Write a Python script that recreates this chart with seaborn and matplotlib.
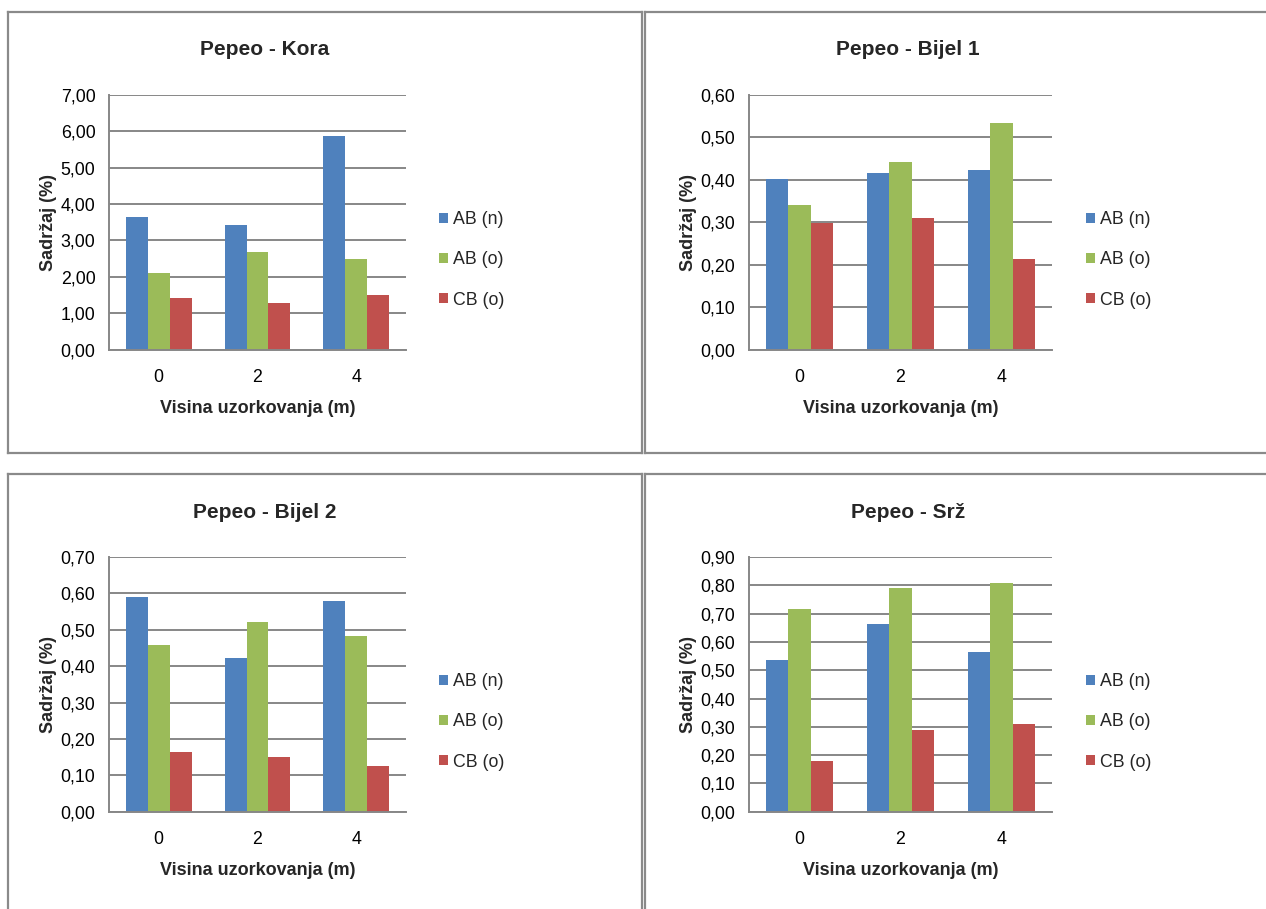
import matplotlib
matplotlib.use("Agg")
import matplotlib.pyplot as plt
from matplotlib.ticker import FuncFormatter, FixedLocator, MultipleLocator
from matplotlib.patches import Patch
from matplotlib.lines import Line2D
import seaborn as sns
import pandas as pd

# Sampling heights (m) and measured series
heights = ["0", "2", "4"]
series = ["AB (n)", "AB (o)", "CB (o)"]
colors = ["#4F81BD", "#9BBB59", "#C0504D"]

kora_ab_n = [3.63, 3.42, 5.87]
kora_ab_o = [2.11, 2.67, 2.49]
kora_cb_o = [1.41, 1.27, 1.49]

bijel1_ab_n = [0.402, 0.415, 0.422]
bijel1_ab_o = [0.341, 0.442, 0.533]
bijel1_cb_o = [0.298, 0.311, 0.213]

bijel2_ab_n = [0.590, 0.423, 0.579]
bijel2_ab_o = [0.458, 0.521, 0.484]
bijel2_cb_o = [0.165, 0.151, 0.125]

srz_ab_n = [0.535, 0.663, 0.563]
srz_ab_o = [0.717, 0.790, 0.807]
srz_cb_o = [0.178, 0.289, 0.309]

titles = ["Pepeo - Kora", "Pepeo - Bijel 1", "Pepeo - Bijel 2", "Pepeo - Srž"]
y_max = [7.0, 0.6, 0.7, 0.9]
y_step = [1.0, 0.1, 0.1, 0.1]

panels = [
    (kora_ab_n, kora_ab_o, kora_cb_o),
    (bijel1_ab_n, bijel1_ab_o, bijel1_cb_o),
    (bijel2_ab_n, bijel2_ab_o, bijel2_cb_o),
    (srz_ab_n, srz_ab_o, srz_cb_o),
]

sns.set_style("white")
plt.rcParams["font.family"] = ["Liberation Sans", "DejaVu Sans"]

W, H = 1266, 909
fig = plt.figure(figsize=(W / 100, H / 100), dpi=100)
fig.patch.set_facecolor("white")

GRID = "#878787"
FRAME = "#8a8a8a"

FS_TICK = 12.8
FS_LAB = 13
FS_TITLE = 15


def px_rect(x0, y0, x1, y1):
    return [x0 / W, (H - y1) / H, (x1 - x0) / W, (y1 - y0) / H]


# plot-area boxes in pixel coordinates (left, top, right, bottom)
boxes = [
    (109.3, 94.7, 405.7, 349.7),
    (749.3, 94.7, 1051.7, 349.7),
    (109.3, 557.0, 405.7, 811.7),
    (749.3, 557.0, 1051.7, 811.7),
]
legend_xy = [(439, 260), (1086, 260), (439, 722), (1086, 722)]
title_xy = [(265, 49.5), (907.5, 49.5), (265, 512.5), (908, 512.5)]

# chart frames
frame_lines = [
    ((8, 642), (12, 12)), ((8, 8), (12, 452.5)), ((8, 642), (452.5, 452.5)), ((642, 642), (12, 452.5)),
    ((644.5, 1266), (12, 12)), ((644.5, 644.5), (12, 452.5)), ((644.5, 1266), (452.5, 452.5)),
    ((8, 642), (474, 474)), ((8, 8), (474, 909)), ((642, 642), (474, 909)),
    ((644.5, 1266), (474, 474)), ((644.5, 644.5), (474, 909)),
]
for xs, ys in frame_lines:
    fig.add_artist(Line2D([x / W for x in xs], [(H - y) / H for y in ys],
                          transform=fig.transFigure, color=FRAME, lw=1.6,
                          solid_capstyle="projecting"))

comma = FuncFormatter(lambda v, p: f"{v:.2f}".replace(".", ","))

for i, (vals, title) in enumerate(zip(panels, titles)):
    x0, y0, x1, y1 = boxes[i]
    ax = fig.add_axes(px_rect(x0, y0, x1, y1))
    df = pd.DataFrame({
        "Visina": heights * 3,
        "Serija": [s for s in series for _ in heights],
        "Sadržaj": list(vals[0]) + list(vals[1]) + list(vals[2]),
    })
    sns.barplot(data=df, x="Visina", y="Sadržaj", hue="Serija", order=heights,
                hue_order=series, palette=colors, saturation=1, width=0.667,
                edgecolor="none", linewidth=0, legend=False, ax=ax)

    ax.set_xlim(-0.5, 2.5)
    ax.set_ylim(0, y_max[i])
    ax.yaxis.set_major_locator(MultipleLocator(y_step[i]))
    ax.yaxis.set_major_formatter(comma)
    ax.set_axisbelow(True)
    ax.yaxis.grid(True, color=GRID, lw=1.4)
    ax.xaxis.grid(False)

    for side in ("top", "right"):
        ax.spines[side].set_visible(False)
    for side in ("left", "bottom"):
        ax.spines[side].set_color(GRID)
        ax.spines[side].set_linewidth(1.4)

    ax.xaxis.set_minor_locator(FixedLocator([-0.5, 0.5, 1.5, 2.5]))
    ax.tick_params(axis="x", which="major", length=0, pad=14, labelsize=FS_TICK, colors="black")
    ax.tick_params(axis="x", which="minor", length=4.5, width=1.2, color=GRID, direction="out")
    ax.tick_params(axis="y", which="major", length=4, width=1.2, color=GRID, direction="out",
                   pad=6, labelsize=FS_TICK, labelcolor="black")

    ax.set_xlabel("Visina uzorkovanja (m)", fontsize=FS_LAB, fontweight="bold")
    ax.set_ylabel("Sadržaj (%)", fontsize=FS_LAB, fontweight="bold")
    ax.xaxis.set_label_coords(0.5, -50 / (y1 - y0))
    ax.yaxis.set_label_coords(-52 / (x1 - x0), 0.5)

    tcx, tcy = title_xy[i]
    ax.set_title(title, fontsize=FS_TITLE, fontweight="bold", pad=0,
                 x=(tcx - x0) / (x1 - x0), y=(y1 - tcy) / (y1 - y0), va="center")

    handles = [Patch(facecolor=c, edgecolor="none") for c in colors]
    lx, ly = legend_xy[i]
    fig.legend(handles, series, loc="center left",
               bbox_to_anchor=(lx / W, (H - ly) / H), bbox_transform=fig.transFigure,
               frameon=False, fontsize=FS_TICK, handlelength=0.5, handleheight=0.5,
               handletextpad=0.3, labelspacing=1.3, borderpad=0, borderaxespad=0)

fig.savefig("out.png", dpi=100, facecolor="white")
